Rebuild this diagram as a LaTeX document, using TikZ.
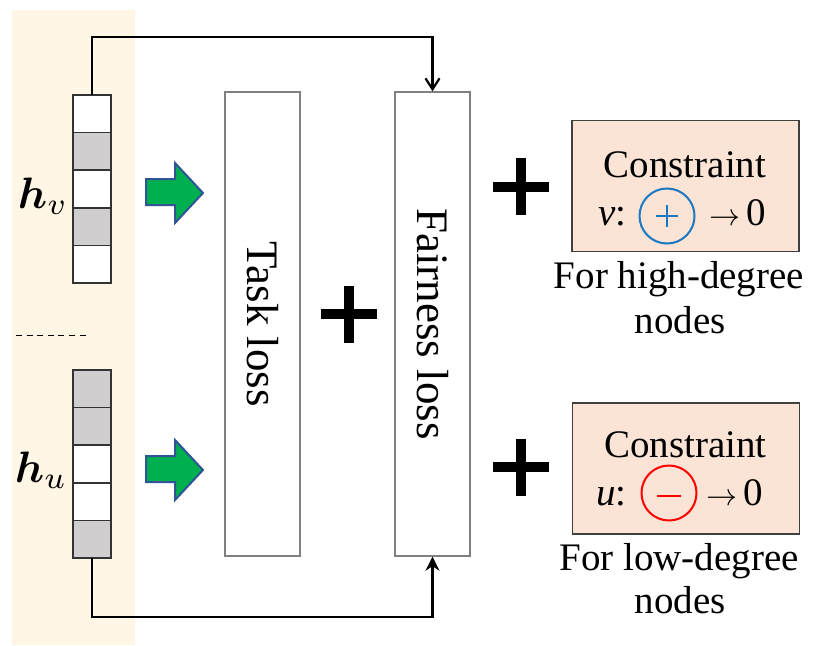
\documentclass[tikz,border=0pt]{standalone}
\usepackage{amsmath}
\usepackage{fontspec}
\setmainfont{Liberation Serif}
\usetikzlibrary{arrows.meta}
\definecolor{sandbg}{HTML}{FFF6E5}
\definecolor{cellgray}{HTML}{D0CECE}
\definecolor{cellline}{HTML}{333333}
\definecolor{lossline}{HTML}{808080}
\definecolor{consfill}{HTML}{FBE4D5}
\definecolor{consline}{HTML}{404040}
\definecolor{arrgreen}{HTML}{00B050}
\definecolor{arrblue}{HTML}{2F5597}
\definecolor{posblue}{HTML}{1A78C2}
\definecolor{negred}{HTML}{FF0000}
\newcommand{\tozero}{\scalebox{3.1}{\normalsize$\rightarrow$}\,0}
\tikzset{
  cellw/.style={draw=cellline, line width=1.5pt, fill=white, minimum width=38pt, minimum height=37.6pt, inner sep=0pt, outer sep=0pt},
  cellg/.style={cellw, fill=cellgray},
  lossbox/.style={draw=lossline, line width=1.3pt, fill=white, minimum width=75pt, minimum height=464pt, inner sep=0pt},
  losstext/.style={rotate=-90, font=\fontsize{45}{50}\selectfont, inner sep=0pt},
  consbox/.style={draw=consline, line width=1.3pt, fill=consfill, minimum width=227pt, minimum height=131pt, inner sep=0pt},
  bigtext/.style={font=\fontsize{39}{44}\selectfont, inner sep=0pt, anchor=base},
  veclabel/.style={anchor=base west, inner sep=0pt, scale=4.4},
  signring/.style={circle, line width=2pt, minimum size=55pt, inner sep=0pt},
  link/.style={line width=2.5pt, black},
  plusbar/.style={line width=9.5pt, line cap=butt},
  flowarrow/.style={fill=arrgreen, draw=arrblue, line width=2pt, line join=miter}
}
\begin{document}
\begin{tikzpicture}[x=1pt, y=-1pt]
\useasboundingbox (0,0) rectangle (813,645);
% shaded input column
\fill[sandbg] (12,10) rectangle (135,645);

% embedding vector h_v
\node[cellw] (hv1) at (92,113.8) {};
\node[cellg] (hv2) at (92,151.4) {};
\node[cellw] (hv3) at (92,189.0) {};
\node[cellg] (hv4) at (92,226.6) {};
\node[cellw] (hv5) at (92,264.2) {};
\node[veclabel] (hvlab) at (17,208) {$\boldsymbol{h}_v$};

% separator
\draw[line width=1pt, dash pattern=on 6pt off 4.6pt] (16,335) -- (90,335);

% embedding vector h_u
\node[cellg] (hu1) at (92,388.8) {};
\node[cellg] (hu2) at (92,426.4) {};
\node[cellw] (hu3) at (92,464.0) {};
\node[cellw] (hu4) at (92,501.6) {};
\node[cellg] (hu5) at (92,539.2) {};
\node[veclabel] (hulab) at (14,482) {$\boldsymbol{h}_u$};

% block arrows into the losses
\draw[flowarrow] (146,179) -- (175,179) -- (175,163) -- (203,193) -- (175,223) -- (175,205) -- (146,205) -- cycle;
\draw[flowarrow] (146,456) -- (175,456) -- (175,440) -- (203,470) -- (175,500) -- (175,482) -- (146,482) -- cycle;

% loss boxes
\node[lossbox] (task) at (262.5,324) {};
\node[losstext] (tasktxt) at (task.center) {Task loss};
\node[lossbox] (fair) at (432.5,324) {};
\node[losstext] (fairtxt) at (fair.center) {Fairness loss};

% feedback connectors
\coordinate (topbend) at (432.5,37);
\coordinate (botbend) at (432.5,617);
\draw[link, -{Straight Barb[length=11pt, width=14pt, line width=2.2pt]}] (hv1.north) |- (topbend) -- (fair.north);
\draw[link, -{Stealth[length=14pt, width=14pt]}] (hu5.south) |- (botbend) -- (fair.south);

% plus signs
\draw[plusbar] (321,314) -- (377,314);
\draw[plusbar] (349,286) -- (349,343);
\draw[plusbar] (493,187) -- (549,187);
\draw[plusbar] (521,158) -- (521,215);
\draw[plusbar] (493,467) -- (549,467);
\draw[plusbar] (521,439) -- (521,496);

% constraint for high-degree nodes
\node[consbox] (consv) at (685.5,186) {};
\node[bigtext] (consvt) at (685,177) {Constraint};
\node[bigtext, anchor=base west] (vlab) at (598,225) {\textit{v}:};
\node[signring, draw=posblue] (vring) at (667,216) {};
\draw[posblue, line width=1.6pt] (656,216) -- (678,216) (667,205) -- (667,227);
\node[bigtext, anchor=base west] (vzero) at (709,225) {\tozero};
\node[bigtext] (vnote1) at (679,288) {For high-degree};
\node[bigtext] (vnote2) at (680,333) {nodes};

% constraint for low-degree nodes
\node[consbox] (consu) at (686,468.5) {};
\node[bigtext] (consut) at (685.5,457) {Constraint};
\node[bigtext, anchor=base west] (ulab) at (596,505) {\textit{u}:};
\node[signring, draw=negred] (uring) at (669,493) {};
\draw[negred, line width=1.6pt] (657,496) -- (681,496);
\node[bigtext, anchor=base west] (uzero) at (706,505) {\tozero};
\node[bigtext] (unote1) at (679,570) {For low-degree};
\node[bigtext] (unote2) at (680,613) {nodes};
\end{tikzpicture}
\end{document}
